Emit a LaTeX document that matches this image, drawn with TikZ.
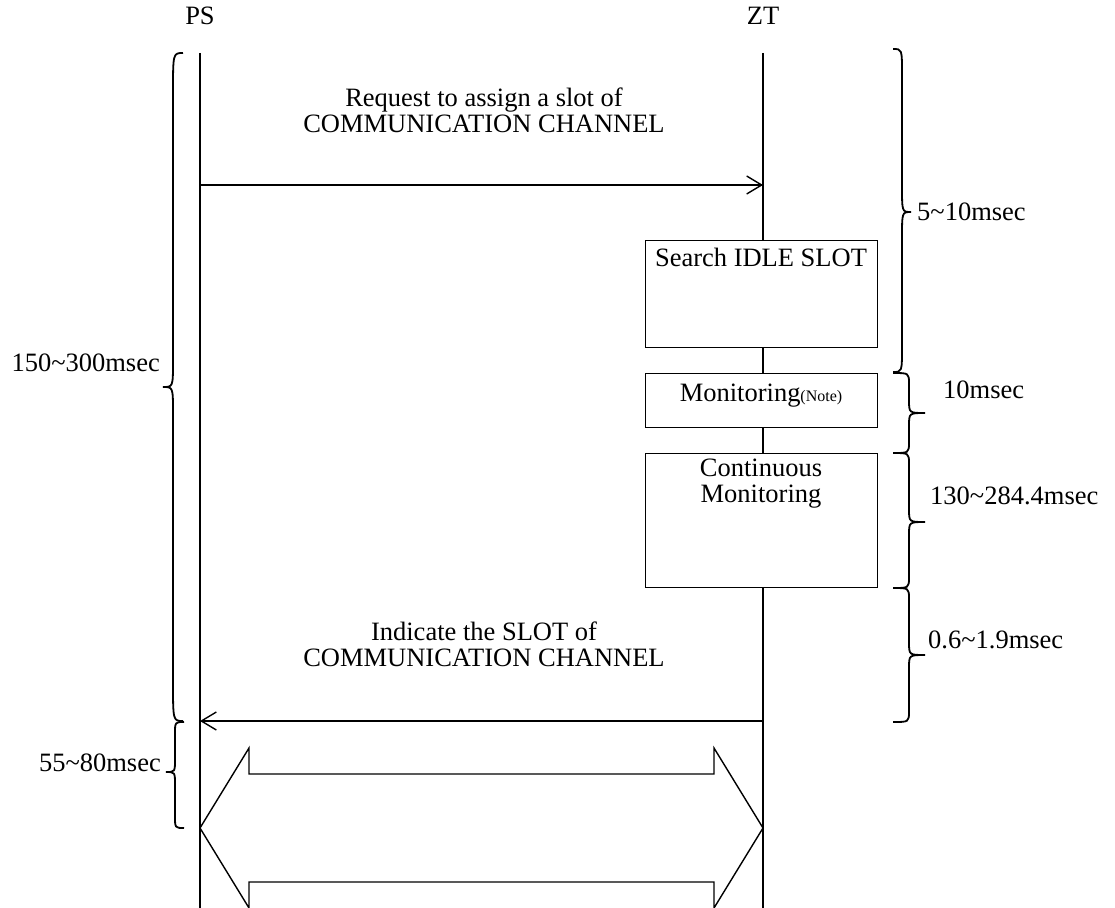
\documentclass[tikz,border=0pt]{standalone}
\usepackage{fontspec}
\setmainfont{Liberation Serif}
\usetikzlibrary{arrows.meta}
\newcommand\myBrace[8]{%
  \draw[bracestyle] (#1,#4) .. controls (#2,#4) .. (#2,#4+#7) -- (#2,#5-#8)
    .. controls (#2,#5) .. (#3,#5) .. controls (#2,#5) .. (#2,#5+#8)
    -- (#2,#6-#7) .. controls (#2,#6) .. (#1,#6);}
\begin{document}
\begin{tikzpicture}[x=1pt,y=-1pt,
  every node/.style={font=\fontsize{26.5}{30}\selectfont, inner sep=0pt},
  life/.style={line width=1.4pt},
  msg/.style={line width=1.4pt, -{Straight Barb[length=15pt,width=18pt,line width=1.4pt]}},
  procbox/.style={draw, fill=white, line width=1.4pt, anchor=north west},
  bracestyle/.style={line width=1.8pt},
  lbl/.style={align=center}
]
\useasboundingbox (0,0) rectangle (1115,907);
\clip (0,0) rectangle (1115,907);

% lifelines
\node (ps) at (200,16) {PS};
\node (zt) at (763,16) {ZT};
\coordinate (pstop) at (200,53);
\coordinate (psbot) at (200,910);
\coordinate (zttop) at (763,53);
\coordinate (ztbot) at (763,910);
\draw[life] (pstop) -- (psbot);
\draw[life] (zttop) -- (ztbot);

% message 1
\coordinate (m1s) at (200,185);
\coordinate (m1e) at (763,185);
\draw[msg] (m1s) -- (m1e);
\node[lbl] (t1) at (484,110) {Request to assign a slot of\\[-4pt]COMMUNICATION CHANNEL};

% boxes
\node[procbox, minimum width=232pt, minimum height=107pt] (b1) at (645,240) {};
\node (b1t) at (761,257) {Search IDLE SLOT};
\node[procbox, minimum width=232pt, minimum height=54pt] (b2) at (645,373) {};
\node (b2t) at (761,396) {Monitoring{\fontsize{16}{18}\selectfont(Note)}};
\node[procbox, minimum width=232pt, minimum height=134pt] (b3) at (645,453) {};
\node[lbl] (b3t) at (761,484) {Continuous\\[-4pt]Monitoring};

% message 2
\coordinate (m2s) at (763,721);
\coordinate (m2e) at (200,721);
\draw[msg] (m2s) -- (m2e);
\node[lbl] (t2) at (484,644) {Indicate the SLOT of\\[-4pt]COMMUNICATION CHANNEL};

% double arrow
\draw[line width=1.4pt, line join=miter]
  (200,828) -- (249,748) -- (249,774) -- (714,774) -- (714,748) -- (763,828)
  -- (714,908) -- (714,882) -- (249,882) -- (249,908) -- cycle;

% braces right
\myBrace{893}{902}{911}{49}{212}{372}{25}{26}
\myBrace{893}{909}{925}{373}{413}{453}{11}{13}
\myBrace{893}{909}{925}{453}{522}{588}{11}{13}
\myBrace{893}{909}{925}{588}{655}{722}{11}{13}
% braces left
\myBrace{183}{173}{163}{53}{387}{721}{40}{26}
\myBrace{184}{175}{166}{722}{772}{828}{12}{13}

% labels
\node[anchor=west] (l1) at (917,212) {5\textasciitilde10msec};
\node[anchor=west] (l2) at (943,390) {10msec};
\node[anchor=west] (l3) at (930,496) {130\textasciitilde284.4msec};
\node[anchor=west] (l4) at (928,640) {0.6\textasciitilde1.9msec};
\node[anchor=east] (l5) at (160,363) {150\textasciitilde300msec};
\node[anchor=east] (l6) at (161,763) {55\textasciitilde80msec};
\end{tikzpicture}
\end{document}
